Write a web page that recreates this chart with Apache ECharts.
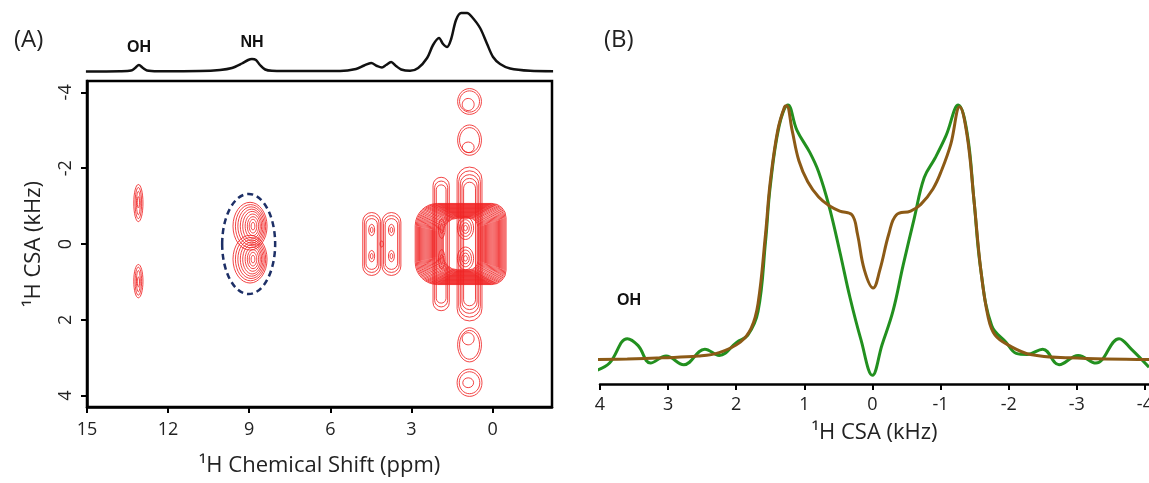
<!DOCTYPE html>
<html>
<head>
<meta charset="utf-8">
<script src="https://cdn.jsdelivr.net/npm/echarts@6/dist/echarts.min.js"></script>
<style>
  html, body { margin: 0; padding: 0; background: #fff; }
  #chart { width: 1149px; height: 483px; }
</style>
</head>
<body>
<div id="chart"></div>
<script>
// ---- panel A: 1D projection (ppm, intensity)
const projPpm = [15.04, 13.78, 13.37, 13.22, 13.08, 12.93, 12.78, 12.37, 10.82, 10.08, 9.64, 9.27, 9.04, 8.9, 8.75, 8.6, 8.41, 8.16, 7.12, 5.64, 5.05, 4.75, 4.49, 4.27, 4.09, 3.94, 3.75, 3.57, 3.38, 3.05, 2.75, 2.42, 2.2, 1.98, 1.83, 1.68, 1.53, 1.35, 1.16, 0.94, 0.76, 0.46, 0.2, -0.02, -0.28, -0.65, -1.39, -2.24]
const projInt = [0.5, 0.8, 1.5, 4, 7, 4, 1.5, 0.8, 1, 2, 4, 8.5, 12, 13, 12, 7, 2.5, 1.3, 1, 1, 3, 6.5, 9, 6, 4.5, 7, 10, 6, 2.5, 1.2, 4, 14, 27, 34, 28, 25, 33, 52, 59, 59, 55, 44, 28, 15, 8, 3.5, 1.2, 0.8]

// ---- panel A: contour rings [ppm, kHz, half width ppm, half height kHz]
const ohRings = [
  [13.1, -1.08, 0.17, 0.49], [13.1, -1.08, 0.12, 0.41], [13.1, -1.08, 0.07, 0.31], [13.1, -1.1, 0.04, 0.15],
  [13.1, 0.98, 0.17, 0.44], [13.1, 0.98, 0.12, 0.37], [13.1, 0.98, 0.07, 0.28], [13.1, 1.0, 0.04, 0.13]
]
const nhRings = [
  [8.97, -0.47, 0.63, 0.63], [8.95, -0.47, 0.56, 0.57], [8.93, -0.47, 0.49, 0.51], [8.91, -0.47, 0.42, 0.45],
  [8.89, -0.47, 0.35, 0.39], [8.87, -0.47, 0.28, 0.32], [8.86, -0.47, 0.21, 0.25], [8.86, -0.47, 0.14, 0.18],
  [8.86, -0.47, 0.07, 0.1],
  [8.97, 0.4, 0.63, 0.63], [8.95, 0.4, 0.56, 0.57], [8.93, 0.4, 0.49, 0.51], [8.91, 0.4, 0.42, 0.45],
  [8.89, 0.4, 0.35, 0.39], [8.87, 0.4, 0.28, 0.32], [8.86, 0.4, 0.21, 0.25], [8.86, 0.4, 0.14, 0.18],
  [8.86, 0.4, 0.07, 0.1]
]
const nhCircle = [[9.02, 0, 0.98, 1.32]]
const midPeaks = [
  [4.47, -0.37, 0.11, 0.15], [4.47, -0.37, 0.05, 0.07], [4.47, 0.32, 0.11, 0.15], [4.47, 0.32, 0.05, 0.07],
  [3.74, -0.37, 0.11, 0.15], [3.74, -0.37, 0.05, 0.07], [3.74, 0.32, 0.11, 0.15], [3.74, 0.32, 0.05, 0.07],
  [4.1, 0, 0.06, 0.08]
]
const midColumns = [
  [4.47, 0, 0.33, 0.83], [4.47, 0, 0.27, 0.75], [4.47, 0, 0.21, 0.67],
  [3.74, 0, 0.35, 0.83], [3.74, 0, 0.29, 0.75], [3.74, 0, 0.23, 0.67]
]
const mainBlock = [
  [1.18, 0, 1.68, 1.07], [1.18, 0, 1.64, 1.055], [1.18, 0, 1.6, 1.04], [1.18, 0, 1.56, 1.025],
  [1.18, 0, 1.52, 1.01], [1.18, 0, 1.48, 0.995], [1.18, 0, 1.44, 0.98], [1.18, 0, 1.4, 0.965],
  [1.18, 0, 1.36, 0.95], [1.18, 0, 1.32, 0.935], [1.18, 0, 1.28, 0.92], [1.18, 0, 1.24, 0.905],
  [1.18, 0, 1.2, 0.89], [1.18, 0, 1.16, 0.875], [1.18, 0, 1.12, 0.86], [1.18, 0, 1.08, 0.845],
  [1.18, 0, 1.04, 0.83], [1.18, 0, 1.0, 0.815], [1.18, 0, 0.96, 0.8], [1.18, 0, 0.92, 0.785],
  [1.18, 0, 0.88, 0.77], [1.18, 0, 0.84, 0.755], [1.18, 0, 0.8, 0.74], [1.18, 0, 0.76, 0.725],
  [1.18, 0, 0.72, 0.71], [1.18, 0, 0.68, 0.695], [1.18, 0, 0.64, 0.68]
]
const mainColumns = [
  [0.85, 0, 0.46, 2.03], [0.85, 0, 0.4, 1.93], [0.85, 0, 0.34, 1.83], [0.85, 0, 0.28, 1.73], [0.85, 0, 0.22, 1.63],
  [1.9, 0, 0.3, 1.76], [1.9, 0, 0.24, 1.66], [1.9, 0, 0.18, 1.56]
]
const mainPeaks = [
  [1.0, -0.42, 0.3, 0.3], [1.0, -0.42, 0.22, 0.22], [1.0, -0.42, 0.14, 0.14], [1.0, -0.42, 0.07, 0.07],
  [1.0, 0.38, 0.3, 0.3], [1.0, 0.38, 0.22, 0.22], [1.0, 0.38, 0.14, 0.14], [1.0, 0.38, 0.07, 0.07],
  [1.88, -0.4, 0.12, 0.25], [1.88, -0.4, 0.06, 0.12], [1.88, 0.4, 0.12, 0.25], [1.88, 0.4, 0.06, 0.12]
]
const satellites = [
  [0.85, -3.76, 0.44, 0.34], [0.85, -3.76, 0.37, 0.28], [0.9, -3.68, 0.22, 0.16],
  [0.85, -2.74, 0.44, 0.4], [0.85, -2.74, 0.37, 0.33], [0.9, -2.55, 0.22, 0.14],
  [0.85, 2.66, 0.44, 0.45], [0.85, 2.66, 0.37, 0.38], [0.9, 2.5, 0.22, 0.16],
  [0.85, 3.66, 0.46, 0.36], [0.85, 3.66, 0.38, 0.29], [0.9, 3.66, 0.2, 0.13]
]
const ppmTicks = [15, 12, 9, 6, 3, 0]
const csaTicksA = [-4, -2, 0, 2, 4]

// ---- panel B: slices (kHz, intensity)
const simKHz = [4.04, 3.6, 3.08, 2.56, 2.25, 1.94, 1.78, 1.68, 1.57, 1.5, 1.39, 1.29, 1.26, 1.18, 1.08, 0.95, 0.79, 0.64, 0.48, 0.3, 0.22, 0.12, -0.01, -0.11, -0.24, -0.35, -0.56, -0.71, -0.89, -1.02, -1.15, -1.28, -1.39, -1.49, -1.59, -1.7, -1.8, -2.01, -2.32, -2.89, -4.06]
const simInt = [8.75, 9, 9.4, 10, 11.25, 15, 20, 28.75, 53.75, 72.5, 91, 99.4, 99.75, 91, 80, 72.5, 67, 64, 62, 60.6, 53.75, 41, 34.4, 41, 53.75, 60.6, 62, 64.4, 70, 76.9, 86, 99.4, 89, 66, 41, 23.75, 17.5, 13.75, 10.6, 9.4, 8.75]
const expKHz = [4.04, 3.86, 3.6, 3.44, 3.26, 3.03, 2.77, 2.46, 2.25, 1.99, 1.83, 1.68, 1.57, 1.5, 1.37, 1.24, 1.11, 0.92, 0.79, 0.64, 0.48, 0.33, 0.17, 0.0, -0.14, -0.3, -0.45, -0.61, -0.76, -0.92, -1.08, -1.26, -1.39, -1.49, -1.59, -1.75, -1.96, -2.11, -2.27, -2.5, -2.74, -3.02, -3.28, -3.62, -3.8, -4.06]
const expInt = [5, 7.5, 16.25, 13.75, 7.5, 10, 6.9, 12.5, 10.25, 15, 17.5, 26, 51, 71, 92.5, 100, 91, 83, 76, 64, 47.5, 31, 16, 3.1, 14, 26, 42.5, 59, 74, 81, 89, 100, 90, 66, 41, 21, 15, 11, 10.6, 12.5, 6.9, 10.25, 7.5, 16.25, 12.5, 6]
const csaTicksB = [4, 3, 2, 1, 0, -1, -2, -3, -4]

const RED = 'rgba(240, 35, 35, 0.85)'
const FONT = '"Open Sans", "Noto Sans", sans-serif'

const zip = (a, b) => a.map((v, i) => [v, b[i]])

const ellipseItem = (params, api) => {
  const c = api.coord([api.value(0), api.value(1)])
  const s = api.size([api.value(2), api.value(3)], [api.value(0), api.value(1)])
  return {
    type: 'ellipse',
    shape: { cx: c[0], cy: c[1], rx: s[0], ry: s[1] },
    style: { fill: 'none', stroke: RED, lineWidth: 1 }
  }
}

const rectItem = (corner) => (params, api) => {
  const c = api.coord([api.value(0), api.value(1)])
  const s = api.size([api.value(2), api.value(3)], [api.value(0), api.value(1)])
  const w = s[0], h = s[1]
  return {
    type: 'rect',
    shape: { x: c[0] - w, y: c[1] - h, width: 2 * w, height: 2 * h, r: corner(w, h) },
    style: { fill: 'none', stroke: RED, lineWidth: 1 }
  }
}

const axisText = { fontFamily: FONT, fontSize: 18, color: '#222' }
const nameText = { fontFamily: FONT, fontSize: 22, color: '#222' }
const blackLine = { show: true, onZero: false, lineStyle: { color: '#000', width: 2.5 } }

const chart = echarts.init(document.getElementById('chart'))

chart.setOption({
  animation: false,
  grid: [
    { left: 87, top: 81, width: 465, height: 326, show: true, borderColor: '#000', borderWidth: 2.5, backgroundColor: 'transparent', outerBoundsMode: 'none', containLabel: false },
    { left: 87, top: 10, width: 465, height: 62, outerBoundsMode: 'none', containLabel: false },
    { left: 600, top: 105, width: 549, height: 279, outerBoundsMode: 'none', containLabel: false }
  ],
  xAxis: [
    {
      gridIndex: 0, type: 'value', min: -2.2, max: 15, inverse: true,
      axisLine: blackLine,
      axisTick: { show: true, customValues: ppmTicks, length: 6, lineStyle: { color: '#000', width: 2 } },
      axisLabel: Object.assign({ customValues: ppmTicks, margin: 14 }, axisText),
      splitLine: { show: false },
      name: '¹H Chemical Shift (ppm)', nameLocation: 'middle', nameGap: 48, nameTextStyle: nameText
    },
    { gridIndex: 1, type: 'value', min: -2.2, max: 15, inverse: true, show: false },
    {
      gridIndex: 2, type: 'value', min: -4.06, max: 4, inverse: true,
      axisLine: blackLine,
      axisTick: { show: true, customValues: csaTicksB, length: 6, lineStyle: { color: '#000', width: 2 } },
      axisLabel: Object.assign({ customValues: csaTicksB, margin: 12 }, axisText),
      splitLine: { show: false },
      name: '¹H CSA (kHz)', nameLocation: 'middle', nameGap: 38, nameTextStyle: nameText
    }
  ],
  yAxis: [
    {
      gridIndex: 0, type: 'value', min: -4.3, max: 4.3, inverse: true,
      axisLine: blackLine,
      axisTick: { show: true, customValues: csaTicksA, length: 6, lineStyle: { color: '#000', width: 2 } },
      axisLabel: Object.assign({ customValues: csaTicksA, rotate: 90, margin: 12 }, axisText),
      splitLine: { show: false },
      name: '¹H CSA (kHz)', nameLocation: 'middle', nameGap: 42, nameTextStyle: nameText
    },
    { gridIndex: 1, type: 'value', min: 0, max: 62, show: false },
    { gridIndex: 2, type: 'value', min: 0, max: 100, show: false }
  ],
  graphic: [
    { type: 'text', left: 14, top: 28, style: { text: '(A)', font: '24px ' + FONT, fill: '#222' } },
    { type: 'text', left: 604, top: 28, style: { text: '(B)', font: '24px ' + FONT, fill: '#222' } },
    { type: 'text', x: 139, y: 48, style: { text: 'OH', font: 'bold 16px "Liberation Sans", Arial, sans-serif', fill: '#111', align: 'center', verticalAlign: 'middle' } },
    { type: 'text', x: 252, y: 43, style: { text: 'NH', font: 'bold 16px "Liberation Sans", Arial, sans-serif', fill: '#111', align: 'center', verticalAlign: 'middle' } },
    { type: 'text', x: 629, y: 301, style: { text: 'OH', font: 'bold 16px "Liberation Sans", Arial, sans-serif', fill: '#111', align: 'center', verticalAlign: 'middle' } }
  ],
  series: [
    {
      type: 'custom', name: 'rings', xAxisIndex: 0, yAxisIndex: 0, silent: true,
      renderItem: ellipseItem,
      data: [].concat(ohRings, nhRings, midPeaks, mainPeaks, satellites)
    },
    {
      type: 'custom', name: 'columns', xAxisIndex: 0, yAxisIndex: 0, silent: true,
      renderItem: rectItem((w, h) => Math.min(w, h)),
      data: [].concat(midColumns, mainColumns)
    },
    {
      type: 'custom', name: 'block', xAxisIndex: 0, yAxisIndex: 0, silent: true,
      renderItem: rectItem((w, h) => [h * 0.55, h * 0.35, h * 0.35, h * 0.55]),
      data: mainBlock
    },
    {
      type: 'custom', name: 'NH', xAxisIndex: 0, yAxisIndex: 0, silent: true,
      renderItem: (params, api) => {
        const c = api.coord([api.value(0), api.value(1)])
        const s = api.size([api.value(2), api.value(3)], [api.value(0), api.value(1)])
        return {
          type: 'ellipse',
          shape: { cx: c[0], cy: c[1], rx: s[0], ry: s[1] },
          style: { fill: 'none', stroke: '#1d2f66', lineWidth: 2.5, lineDash: [6, 4] }
        }
      },
      data: nhCircle
    },
    {
      type: 'line', name: 'projection', xAxisIndex: 1, yAxisIndex: 1,
      data: zip(projPpm, projInt), smooth: 0.3, showSymbol: false, clip: false,
      lineStyle: { color: '#111', width: 2.5 }
    },
    {
      type: 'line', name: 'experiment', xAxisIndex: 2, yAxisIndex: 2,
      data: zip(expKHz, expInt), smooth: 0.4, showSymbol: false, clip: false,
      lineStyle: { color: '#22901f', width: 3 }
    },
    {
      type: 'line', name: 'simulation', xAxisIndex: 2, yAxisIndex: 2,
      data: zip(simKHz, simInt), smooth: 0.4, showSymbol: false, clip: false,
      lineStyle: { color: '#8c5a16', width: 3 }
    }
  ]
})

window.addEventListener('resize', () => chart.resize())
</script>
</body>
</html>
